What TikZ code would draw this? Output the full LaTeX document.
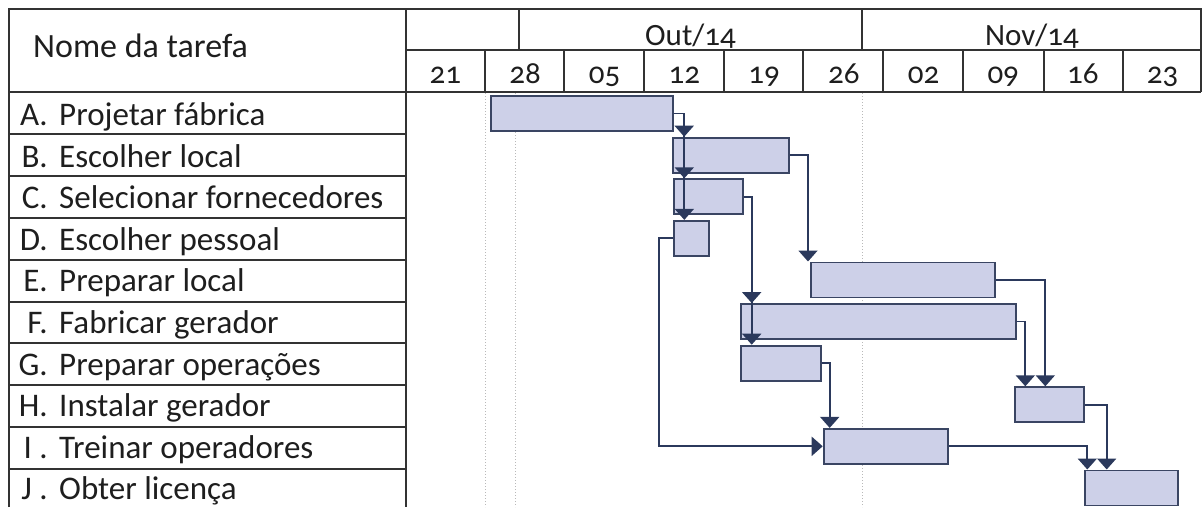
\documentclass[tikz,border=0pt]{standalone}
\usepackage{fontspec}
\setmainfont{Carlito}[Numbers=OldStyle]
\usetikzlibrary{arrows.meta}
\definecolor{barfill}{HTML}{CDD0E8}
\definecolor{barline}{HTML}{3A4563}
\definecolor{deplink}{HTML}{2B395C}
\definecolor{gridcol}{HTML}{333333}
\definecolor{txt}{HTML}{1E1E1E}
\tikzset{
  gridline/.style={gridcol, line width=1.7pt},
  weekmark/.style={gray!55, dotted, line width=1pt},
  bar/.style={draw=barline, fill=barfill, line width=1.8pt, minimum height=35pt, inner sep=0pt, anchor=west},
  dep/.style={deplink, line width=1.9pt, -{Triangle[width=19pt,length=11pt]}},
  lbl/.style={text=txt, font=\fontsize{33}{36}\selectfont, inner sep=0pt},
  hdr/.style={text=txt, font=\fontsize{31}{34}\selectfont, inner sep=0pt, anchor=base},
}
\begin{document}
\begin{tikzpicture}[x=1pt,y=-1pt]
   \useasboundingbox (0,0) rectangle (1202,507);
   \draw[gridline] (9,507) -- (9,9.3) -- (1201.3,9.3) -- (1201.3,92);
   \draw[gridline] (9,92) -- (1201.3,92);
   \draw[gridline] (405.7,9.3) -- (405.7,507);
   \draw[gridline] (405.7,50) -- (1201.3,50);
   \foreach \x in {485,564,644,724,803,883,963,1044,1123}
      \draw[gridline] (\x,50) -- (\x,92);
   \foreach \x in {519,862}
      \draw[gridline] (\x,9.3) -- (\x,50);
   \foreach \y in {134,176,218,260,302,343,385,427,469}
      \draw[gridline] (9,\y) -- (405.7,\y);
   \node[lbl, anchor=base west] (nome) at (33,57) {\fontsize{34}{36}\selectfont Nome da tarefa};
   \node[hdr] (out) at (690.5,45) {Out/14};
   \node[hdr] (nov) at (1032,45) {Nov/14};
   \foreach \d [count=\i from 0] in {21,28,05,12,19,26,02,09,16,23}
      \node[hdr] (w\i) at (445.3+79.7*\i,83.5) {\d};
   \foreach \l/\t [count=\i from 0] in {A./Projetar fábrica, B./Escolher local,
         C./Selecionar fornecedores, D./Escolher pessoal, E./Preparar local,
         F./Fabricar gerador, G./Preparar operações, H./Instalar gerador,
         I ./Treinar operadores, J ./Obter licença}{
      \node[lbl, anchor=base east] (l\i) at (48,125.5+41.6*\i) {\l};
      \node[lbl, anchor=base west] (t\i) at (59,125.5+41.6*\i) {\t};
   }
   \foreach \x in {485.3,515.7,862}
      \draw[weekmark] (\x,93) -- (\x,507);
   \foreach \n/\x/\w/\r in {A/490/182/0, B/671.7/116/1, C/673.3/68.7/2,
         D/673.3/34.7/3, E/810/184/4, F/740/274.7/5, G/740/80/6,
         H/1014.3/68.7/7, I/822.7/124/8, J/1084.3/93/9}
      \node[bar, minimum width=\w pt] (\n) at (\x,113.5+41.6*\r) {};
   \draw[dep] (A.east) -| ([xshift=12.5pt]B.north west);
   \draw[dep] (A.east) -| ([xshift=11pt]C.north west);
   \draw[dep] (A.east) -| ([xshift=11pt]D.north west);
   \draw[dep] (B.east) -| ([xshift=-2pt]E.north west);
   \draw[dep] (C.east) -| ([xshift=11.7pt]F.north west);
   \draw[dep] (C.east) -| ([xshift=11.7pt]G.north west);
   \draw[dep] (D.west) -- ++(-14,0) |- (I.west);
   \draw[dep] (E.east) -| ([xshift=31pt]H.north west);
   \draw[dep] (F.east) -| ([xshift=11pt]H.north west);
   \draw[dep] (G.east) -| ([xshift=7pt]I.north west);
   \draw[dep] (H.east) -| ([xshift=22.4pt]J.north west);
   \draw[dep] (I.east) -| ([xshift=3pt]J.north west);
\end{tikzpicture}
\end{document}
